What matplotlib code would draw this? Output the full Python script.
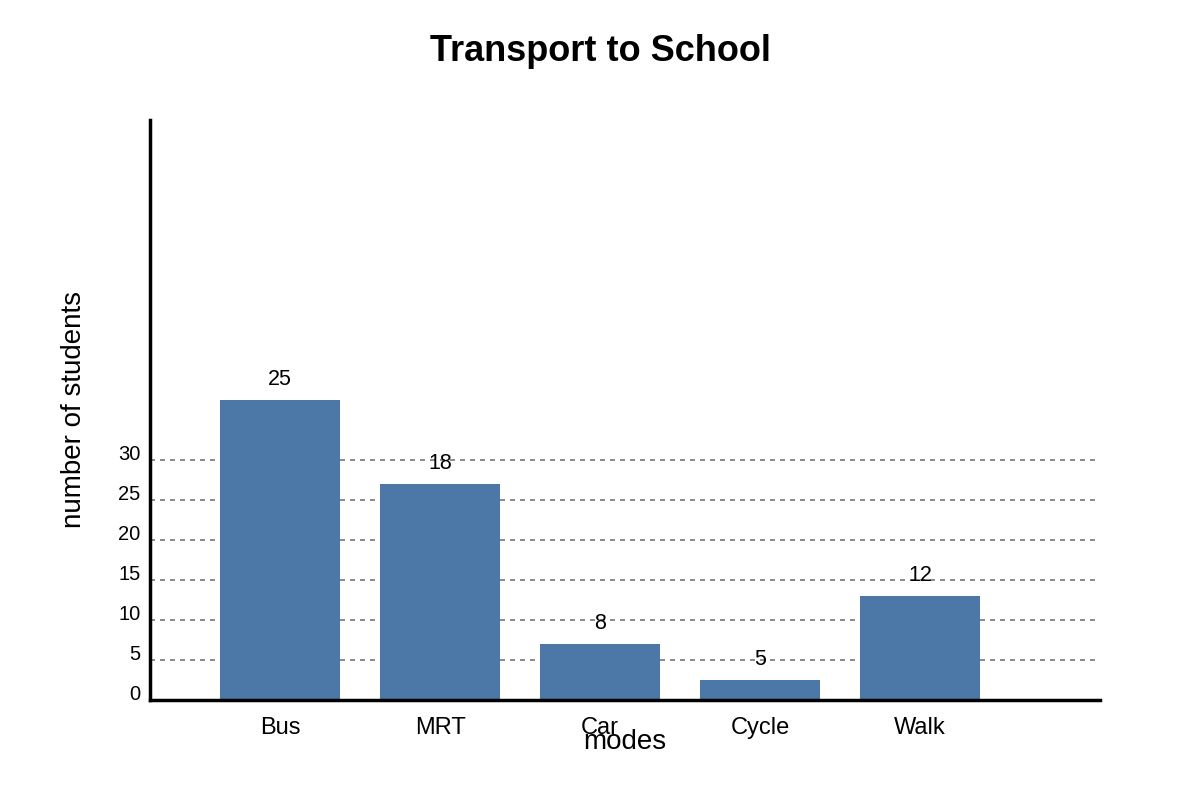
import numpy as np
import matplotlib
matplotlib.use("Agg")
import matplotlib.pyplot as plt
from matplotlib.transforms import ScaledTranslation

plt.rcParams['font.family'] = ['Liberation Sans', 'DejaVu Sans']

# categories and values
modes = ["Bus", "MRT", "Car", "Cycle", "Walk"]
# bar heights as drawn against the y axis
bar_heights = [37.5, 27, 7, 2.5, 13]
# numbers printed above the bars
bar_labels = ["25", "18", "8", "5", "12"]
y_ticks = [0, 5, 10, 15, 20, 25, 30]

fig = plt.figure(figsize=(12, 8), dpi=100)
ax = fig.add_axes([0.125, 0.125, 0.7917, 0.725])

x = np.arange(len(modes))
bars = ax.bar(x, bar_heights, width=0.75, color="#4c78a8", zorder=2)

for b, lab in zip(bars, bar_labels):
    ax.annotate(lab, (b.get_x() + b.get_width() / 2, b.get_height()),
                xytext=(0, 7), textcoords="offset points",
                ha="center", va="bottom", fontsize=15.5)

ax.set_xlim(-0.8125, 5.125)
ax.set_ylim(0, 72.5)
ax.set_xticks(x)
ax.set_xticklabels(modes, fontsize=17)
ax.set_yticks(y_ticks)
ax.set_yticklabels([str(t) for t in y_ticks], fontsize=14.5)
ax.tick_params(axis="both", length=0)
ax.tick_params(axis="x", pad=12)
ax.tick_params(axis="y", pad=7)
# y tick labels sit a little above their gridlines
shift = ScaledTranslation(0, 7 / 100, fig.dpi_scale_trans)
for lbl in ax.get_yticklabels():
    lbl.set_transform(lbl.get_transform() + shift)

# dashed gridlines, only up to 30
for t in y_ticks[1:]:
    ax.axhline(t, color="#777777", linestyle=(0, (3, 3)), linewidth=1.2, zorder=1)

for s in ["top", "right"]:
    ax.spines[s].set_visible(False)
ax.spines["left"].set_linewidth(2.5)
ax.spines["bottom"].set_linewidth(2.5)
ax.spines["left"].set_zorder(3)
ax.spines["bottom"].set_zorder(3)

ax.set_xlabel("modes", fontsize=20, labelpad=-7)
ax.set_ylabel("number of students", fontsize=20, labelpad=22)
fig.suptitle("Transport to School", fontsize=26, fontweight="bold", y=0.958)

fig.savefig("out.png", dpi=100)
